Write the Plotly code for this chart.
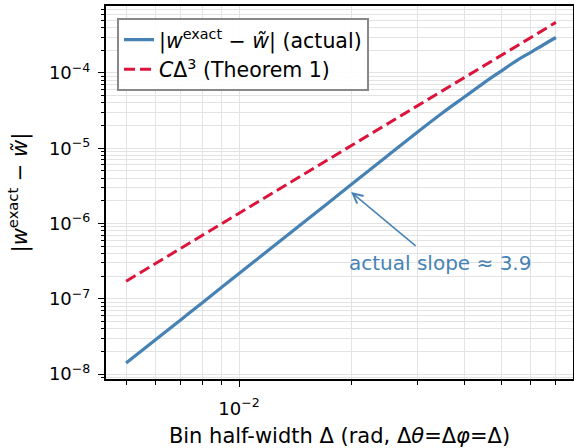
import numpy as np
import plotly.graph_objects as go

# ---- data ----
delta = [0.005, 0.006, 0.007, 0.008, 0.010, 0.012, 0.015, 0.020, 0.025,
         0.030, 0.035, 0.040, 0.045, 0.050, 0.055, 0.060, 0.065, 0.070]
err_actual = [1.40e-8, 2.87e-8, 5.28e-8, 8.95e-8, 2.16e-7, 4.44e-7, 1.07e-6,
              3.34e-6, 8.07e-6, 1.66e-5, 2.99e-5, 4.84e-5, 7.40e-5, 1.06e-4,
              1.46e-4, 1.88e-4, 2.39e-4, 2.96e-4]
delta_bound = [0.005, 0.01, 0.02, 0.04, 0.07]
err_bound = [1.71e-7, 1.37e-6, 1.10e-5, 8.77e-5, 4.70e-4]

x_major = [0.01]
x_major_text = ["10<sup>−2</sup>"]
y_major = [1e-8, 1e-7, 1e-6, 1e-5, 1e-4]
y_major_text = ["10<sup>−8</sup>", "10<sup>−7</sup>", "10<sup>−6</sup>",
                "10<sup>−5</sup>", "10<sup>−4</sup>"]

FONT = "DejaVu Sans"
BLUE = "#4682B4"
RED = "#DC143C"
GRID = "#e3e3e3"

x_minor = [m * 10.0 ** e for e in (-3, -2) for m in range(2, 10)]
y_minor = [m * 10.0 ** e for e in range(-9, -3) for m in range(2, 10)]

fig = go.Figure()
fig.add_trace(go.Scatter(
    x=delta, y=err_actual, mode="lines", line_shape="spline",
    line=dict(color=BLUE, width=3.2),
    name="|<i>w</i><sup>exact</sup> − <i>w̃</i>| (actual)"))
fig.add_trace(go.Scatter(
    x=delta_bound, y=err_bound, mode="lines",
    line=dict(color=RED, width=3, dash="11px,5px"),
    name="<i>C</i>Δ<sup>3</sup> (Theorem 1)"))

axis_common = dict(
    type="log", showline=True, linecolor="black", linewidth=2, mirror=True,
    ticks="outside", ticklen=6, tickwidth=1.3, tickcolor="black",
    showgrid=True, gridcolor=GRID, gridwidth=1, zeroline=False, automargin=False,
    tickfont=dict(family=FONT, size=18, color="black"),
)

fig.update_xaxes(
    **axis_common,
    range=[-2.3547, -1.1093],
    tickmode="array", tickvals=x_major, ticktext=x_major_text,
    ticklabelstandoff=6,
    minor=dict(tickmode="array", tickvals=x_minor, ticks="outside", ticklen=3.5,
               tickwidth=1, tickcolor="black", showgrid=True, gridcolor=GRID, gridwidth=1),
    title=dict(text="Bin half-width Δ (rad, Δ<i>θ</i>=Δ<i>φ</i>=Δ)",
               font=dict(family=FONT, size=21, color="black"), standoff=12),
)
fig.update_yaxes(
    **axis_common,
    range=[-8.066, -3.11],
    tickmode="array", tickvals=y_major, ticktext=y_major_text,
    ticklabelstandoff=4,
    minor=dict(tickmode="array", tickvals=y_minor, ticks="outside", ticklen=3.5,
               tickwidth=1, tickcolor="black", showgrid=True, gridcolor=GRID, gridwidth=1),
    title=dict(text="|<i>w</i><sup>exact</sup> − <i>w̃</i>|",
               font=dict(family=FONT, size=21, color="black"), standoff=16),
)

# arrow
fig.add_annotation(
    x=-1.701, y=-5.583, xref="x", yref="y", text="",
    showarrow=True, ax=66, ay=55, arrowhead=5, arrowsize=1.3, arrowwidth=1.5,
    arrowcolor=BLUE, standoff=0)
# text
fig.add_annotation(
    x=-1.464, y=-6.526, xref="x", yref="y", text="actual slope ≈ 3.9",
    showarrow=False, font=dict(family=FONT, size=20, color=BLUE))

fig.update_layout(
    width=574, height=448,
    margin=dict(l=106, r=1, t=6, b=69),
    paper_bgcolor="white", plot_bgcolor="white",
    showlegend=True,
    legend=dict(x=0.024, y=0.968, xanchor="left", yanchor="top",
                bgcolor="rgba(255,255,255,0.9)", bordercolor="#888888", borderwidth=1.8,
                font=dict(family=FONT, size=20.5, color="black")),
)

fig.write_html("out.html", config={"displayModeBar": False},
               post_script="document.body.style.margin='0';")
